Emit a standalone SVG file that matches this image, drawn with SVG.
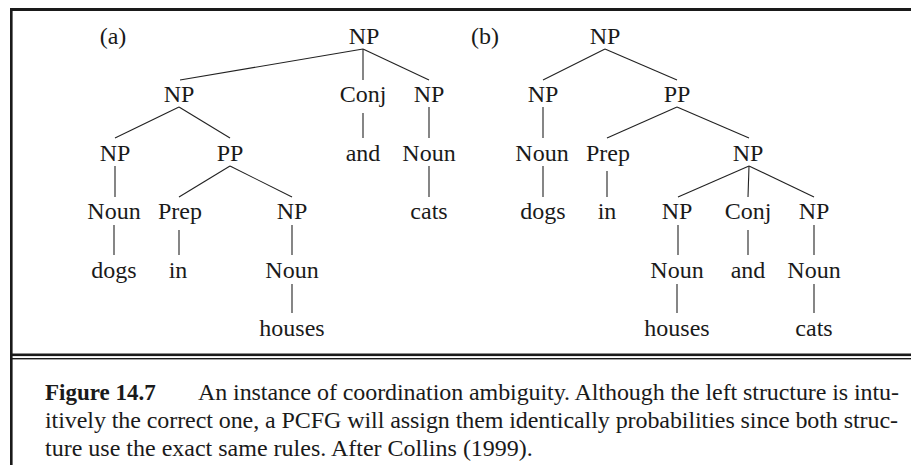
<svg xmlns="http://www.w3.org/2000/svg" width="911" height="465" viewBox="0 0 911 465">
<style>
.t{font-family:"Liberation Serif","Times New Roman",serif;font-size:24px;fill:#1a1a1a;text-anchor:middle}
.c{font-family:"Liberation Serif","Times New Roman",serif;font-size:24px;fill:#1a1a1a}
.b{font-weight:bold;font-size:23px}
.e line{stroke:#222;stroke-width:1.1}
.f{fill:#1a1a1a}
</style>
<rect width="911" height="465" fill="#fff"/>
<g id="frame">
<rect class="f" x="10" y="8" width="901" height="3"/>
<rect class="f" x="10" y="8" width="2.6" height="457"/>
<rect class="f" x="10" y="353.5" width="901" height="2.6"/>
<rect class="f" x="10" y="358" width="901" height="1.4"/>
</g>
<g id="connectors" class="e">
<line x1="363" y1="49" x2="180" y2="80"/>
<line x1="363" y1="49" x2="363" y2="80"/>
<line x1="363" y1="49" x2="429" y2="80"/>
<line x1="179" y1="107" x2="115" y2="138"/>
<line x1="179" y1="107" x2="230" y2="138"/>
<line x1="363" y1="113" x2="363" y2="138"/>
<line x1="429" y1="107" x2="429" y2="138"/>
<line x1="115" y1="166" x2="115" y2="197"/>
<line x1="230" y1="166" x2="179" y2="197"/>
<line x1="230" y1="166" x2="292" y2="197"/>
<line x1="429" y1="166" x2="429" y2="197"/>
<line x1="114" y1="225" x2="114" y2="255"/>
<line x1="179" y1="230" x2="179" y2="255"/>
<line x1="292" y1="225" x2="292" y2="255"/>
<line x1="292" y1="284" x2="292" y2="313"/>
<line x1="605" y1="49" x2="543" y2="80"/>
<line x1="605" y1="49" x2="677" y2="80"/>
<line x1="543" y1="107" x2="543" y2="138"/>
<line x1="677" y1="107" x2="607" y2="138"/>
<line x1="677" y1="107" x2="749" y2="138"/>
<line x1="543" y1="166" x2="543" y2="197"/>
<line x1="607" y1="171" x2="607" y2="197"/>
<line x1="749" y1="166" x2="678" y2="197"/>
<line x1="749" y1="166" x2="748" y2="197"/>
<line x1="749" y1="166" x2="814" y2="197"/>
<line x1="678" y1="225" x2="678" y2="255"/>
<line x1="748" y1="230" x2="748" y2="255"/>
<line x1="814" y1="225" x2="814" y2="255"/>
<line x1="677" y1="284" x2="677" y2="313"/>
<line x1="814" y1="284" x2="814" y2="313"/>
</g>
<g id="tree-a">
<text class="t" x="113" y="44">(a)</text>
<g id="a-np0"><text class="t" x="364" y="44">NP</text></g>
<g id="a-np1"><text class="t" x="179" y="102">NP</text></g>
<g id="a-conj"><text class="t" x="363" y="102">Conj</text></g>
<g id="a-np2"><text class="t" x="429" y="102">NP</text></g>
<g id="a-np3"><text class="t" x="115" y="161">NP</text></g>
<g id="a-pp"><text class="t" x="230" y="161">PP</text></g>
<g id="a-and"><text class="t" x="363" y="161">and</text></g>
<g id="a-noun1"><text class="t" x="429" y="161">Noun</text></g>
<g id="a-noun2"><text class="t" x="114" y="219">Noun</text></g>
<g id="a-prep"><text class="t" x="180" y="219">Prep</text></g>
<g id="a-np4"><text class="t" x="292" y="219">NP</text></g>
<g id="a-cats"><text class="t" x="429" y="219">cats</text></g>
<g id="a-dogs"><text class="t" x="114" y="278">dogs</text></g>
<g id="a-in"><text class="t" x="178" y="278">in</text></g>
<g id="a-noun3"><text class="t" x="292" y="278">Noun</text></g>
<g id="a-houses"><text class="t" x="292" y="336">houses</text></g>
</g>
<g id="tree-b">
<text class="t" x="485" y="44">(b)</text>
<g id="b-np0"><text class="t" x="605" y="44">NP</text></g>
<g id="b-np1"><text class="t" x="543" y="102">NP</text></g>
<g id="b-pp"><text class="t" x="677" y="102">PP</text></g>
<g id="b-noun1"><text class="t" x="542" y="161">Noun</text></g>
<g id="b-prep"><text class="t" x="608" y="161">Prep</text></g>
<g id="b-np2"><text class="t" x="748" y="161">NP</text></g>
<g id="b-dogs"><text class="t" x="543" y="219">dogs</text></g>
<g id="b-in"><text class="t" x="607" y="219">in</text></g>
<g id="b-np3"><text class="t" x="677" y="219">NP</text></g>
<g id="b-conj"><text class="t" x="748" y="219">Conj</text></g>
<g id="b-np4"><text class="t" x="814" y="219">NP</text></g>
<g id="b-noun2"><text class="t" x="677" y="278">Noun</text></g>
<g id="b-and"><text class="t" x="748" y="278">and</text></g>
<g id="b-noun3"><text class="t" x="814" y="278">Noun</text></g>
<g id="b-houses"><text class="t" x="677" y="336">houses</text></g>
<g id="b-cats"><text class="t" x="814" y="336">cats</text></g>
</g>
<g id="caption">
<text class="c b" x="45" y="400">Figure 14.7</text>
<text class="c" x="198" y="400" textLength="701" lengthAdjust="spacing">An instance of coordination ambiguity. Although the left structure is intu-</text>
<text class="c" x="45" y="428" textLength="853" lengthAdjust="spacing">itively the correct one, a PCFG will assign them identically probabilities since both struc-</text>
<text class="c" x="45" y="456">ture use the exact same rules. After Collins (1999).</text>
</g>
</svg>
